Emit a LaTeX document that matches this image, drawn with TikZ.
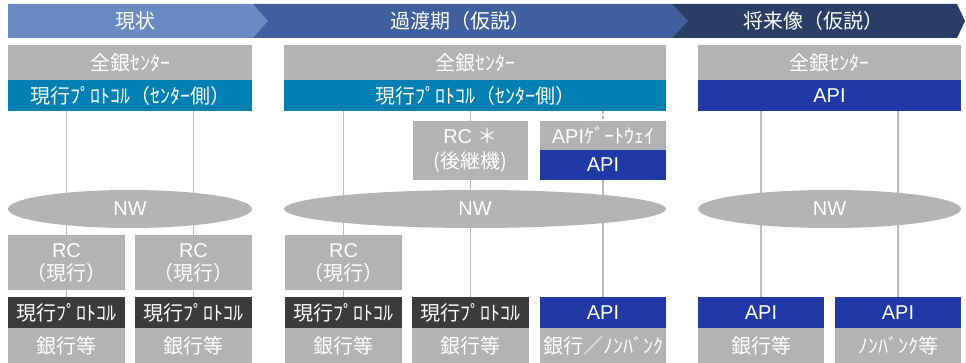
\documentclass[tikz,border=0pt]{standalone}
\usepackage{fontspec}
\setmainfont{Liberation Sans}
\newfontfamily\jp{Noto Sans CJK JP}
\usetikzlibrary{shapes.geometric}
\definecolor{hdrA}{HTML}{6A8AC4}
\definecolor{hdrB}{HTML}{3F5F9F}
\definecolor{hdrC}{HTML}{2A3D66}
\definecolor{boxgray}{HTML}{B3B3B3}
\definecolor{tealbar}{HTML}{0081B3}
\definecolor{apiblue}{HTML}{2039A6}
\definecolor{darkbox}{HTML}{3B3B3B}
\definecolor{linegray}{HTML}{BDBDBD}
\pgfdeclarelayer{bg}
\pgfsetlayers{bg,main}
\newcommand{\fsz}{\fontsize{20}{24}\selectfont}
\tikzset{
  base/.style={inner sep=0pt, outer sep=0pt, text=white, align=center, font=\fsz},
  gbox/.style={base, fill=boxgray},
  tbox/.style={base, fill=tealbar},
  abox/.style={base, fill=apiblue},
  dbox/.style={base, fill=darkbox},
  nwell/.style={base, ellipse, fill=boxgray, minimum height=38pt},
  hdrtext/.style={inner sep=0pt, text=white, font=\fsz},
  conn/.style={draw=linegray, line width=1.4pt},
  dconn/.style={draw=linegray, line width=1.4pt, dash pattern=on 3pt off 2pt},
}
\begin{document}
\begin{tikzpicture}[x=1pt,y=-1pt]
\useasboundingbox (0,0) rectangle (966,363);
% header chevrons
\fill[hdrC] (672,4) -- (957,4) -- (965,21) -- (957,38) -- (672,38) -- cycle;
\fill[hdrB] (253,4) -- (672,4) -- (688,21) -- (672,38) -- (253,38) -- cycle;
\fill[hdrA] (8,4) -- (253,4) -- (268,21) -- (253,38) -- (8,38) -- cycle;
\node[hdrtext] (h1) at (135,21) {\jp 現状};
\node[hdrtext] (h2) at (460,21) {\jp 過渡期（仮説）};
\node[hdrtext] (h3) at (813,21) {\jp 将来像（仮説）};

% column 1
\node[gbox, minimum width=244pt, minimum height=35pt] (zen1) at (130,62.5) {\jp 全銀ｾﾝﾀｰ};
\node[tbox, minimum width=244pt, minimum height=31pt] (proto1) at (130,95.5) {\jp 現行ﾌﾟﾛﾄｺﾙ（ｾﾝﾀｰ側）};
\node[nwell, minimum width=244pt] (nw1) at (130,209) {NW};
\node[gbox, minimum width=117pt, minimum height=55pt] (rc1a) at (66.5,262.5) {RC\\[-1pt]{\jp （現行）}};
\node[gbox, minimum width=117pt, minimum height=55pt] (rc1b) at (193.5,262.5) {RC\\[-1pt]{\jp （現行）}};
\node[dbox, minimum width=117pt, minimum height=31pt] (dk1a) at (66.5,312.5) {\jp 現行ﾌﾟﾛﾄｺﾙ};
\node[dbox, minimum width=117pt, minimum height=31pt] (dk1b) at (193.5,312.5) {\jp 現行ﾌﾟﾛﾄｺﾙ};
\node[gbox, minimum width=117pt, minimum height=35pt] (bk1a) at (66.5,345.5) {\jp 銀行等};
\node[gbox, minimum width=117pt, minimum height=35pt] (bk1b) at (193.5,345.5) {\jp 銀行等};

% column 2
\node[gbox, minimum width=382pt, minimum height=35pt] (zen2) at (475,62.5) {\jp 全銀ｾﾝﾀｰ};
\node[tbox, minimum width=382pt, minimum height=31pt] (proto2) at (475,95.5) {\jp 現行ﾌﾟﾛﾄｺﾙ（ｾﾝﾀｰ側）};
\node[gbox, minimum width=115pt, minimum height=59pt] (rcs) at (470.5,150.5) {RC {\jp ＊}\\[1pt]{\jp (後継機)}};
\node[gbox, minimum width=126pt, minimum height=29pt] (gw) at (603,135.5) {API{\jp ｹﾞｰﾄｳｪｲ}};
\node[abox, minimum width=126pt, minimum height=30pt] (api2top) at (603,165) {API};
\node[nwell, minimum width=382pt] (nw2) at (475,209) {NW};
\node[gbox, minimum width=117pt, minimum height=55pt] (rc2) at (343.5,262.5) {RC\\[-1pt]{\jp （現行）}};
\node[dbox, minimum width=117pt, minimum height=31pt] (dk2a) at (343.5,312.5) {\jp 現行ﾌﾟﾛﾄｺﾙ};
\node[dbox, minimum width=117pt, minimum height=31pt] (dk2b) at (470.5,312.5) {\jp 現行ﾌﾟﾛﾄｺﾙ};
\node[abox, minimum width=126pt, minimum height=31pt] (api2b) at (603,312.5) {API};
\node[gbox, minimum width=117pt, minimum height=35pt] (bk2a) at (343.5,345.5) {\jp 銀行等};
\node[gbox, minimum width=117pt, minimum height=35pt] (bk2b) at (470.5,345.5) {\jp 銀行等};
\node[gbox, minimum width=126pt, minimum height=35pt] (bk2c) at (603,345.5) {\jp 銀行／ﾉﾝﾊﾞﾝｸ};

% column 3
\node[gbox, minimum width=263pt, minimum height=35pt] (zen3) at (829.5,62.5) {\jp 全銀ｾﾝﾀｰ};
\node[abox, minimum width=263pt, minimum height=31pt] (api3) at (829.5,95.5) {API};
\node[nwell, minimum width=263pt] (nw3) at (829.5,209) {NW};
\node[abox, minimum width=126pt, minimum height=31pt] (api3a) at (761,312.5) {API};
\node[abox, minimum width=126pt, minimum height=31pt] (api3b) at (898,312.5) {API};
\node[gbox, minimum width=126pt, minimum height=35pt] (bk3a) at (761,345.5) {\jp 銀行等};
\node[gbox, minimum width=126pt, minimum height=35pt] (bk3b) at (898,345.5) {\jp ﾉﾝﾊﾞﾝｸ等};

% connectors (behind)
\begin{pgfonlayer}{bg}
\draw[conn] (rc1a.north |- proto1.south) -- (dk1a.north);
\draw[conn] (rc1b.north |- proto1.south) -- (dk1b.north);
\draw[conn] (rc2.north |- proto2.south) -- (dk2a.north);
\draw[conn] (rcs.north |- proto2.south) -- (dk2b.north);
\draw[dconn] (gw.north |- proto2.south) -- (gw.north);
\draw[conn] (api2top.south) -- (api2b.north);
\draw[conn] (api3a.north |- api3.south) -- (api3a.north);
\draw[conn] (api3b.north |- api3.south) -- (api3b.north);
\end{pgfonlayer}
\end{tikzpicture}
\end{document}
